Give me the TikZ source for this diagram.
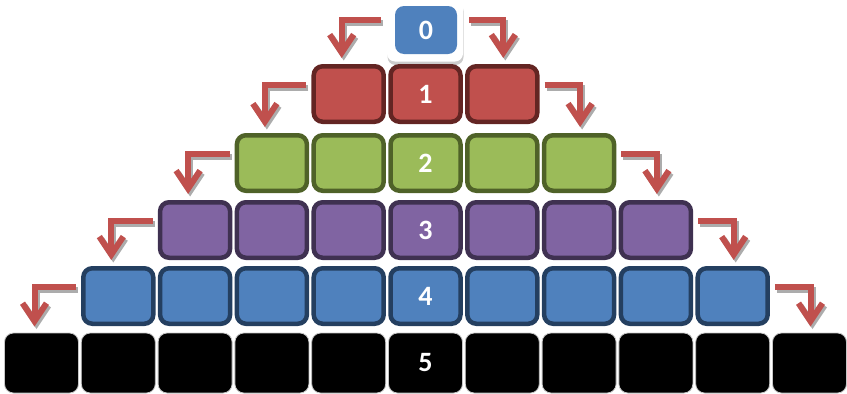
\documentclass[tikz,border=0pt]{standalone}
\usepackage{fontspec}
\setmainfont{Carlito}
\usetikzlibrary{arrows.meta}
\definecolor{redF}{HTML}{C0504D}
\definecolor{redD}{HTML}{632523}
\definecolor{grnF}{HTML}{9BBB59}
\definecolor{grnD}{HTML}{4F6228}
\definecolor{purF}{HTML}{8064A2}
\definecolor{purD}{HTML}{3F3151}
\definecolor{bluF}{HTML}{4F81BD}
\definecolor{bluD}{HTML}{243F60}
\definecolor{arrR}{HTML}{C0504D}
\tikzset{
  cell/.style={rectangle, rounded corners=9pt, line width=4.5pt, minimum width=70pt,
    minimum height=55.5pt, inner sep=0pt, text=white,
    font=\fontsize{28}{28}\selectfont\bfseries},
  blackcell/.style={rectangle, rounded corners=9pt, line width=0.8pt, draw=gray!45,
    fill=black, minimum width=74pt, minimum height=60pt, inner sep=0pt, text=white,
    font=\fontsize{28}{28}\selectfont\bfseries},
  topframe/.style={rectangle, rounded corners=8pt, fill=white, minimum width=76pt,
    minimum height=62pt, inner sep=0pt},
  topshadow/.style={rectangle, rounded corners=8pt, fill=gray!40, minimum width=76pt,
    minimum height=62pt, inner sep=0pt},
  arrbase/.style={line width=6pt, line join=miter,
    -{Straight Barb[length=18pt,width=24pt]}},
  arr/.style={arrbase, draw=arrR},
  arrsh/.style={arrbase, draw=gray!65, transform canvas={xshift=2pt,yshift=-2.5pt}},
}
\begin{document}
\begin{tikzpicture}[x=1pt,y=-1pt]
\useasboundingbox (0,0) rectangle (847,394);
% row 0
\node[topshadow] (sh0) at (425.5,34) {};
\node[topframe] (fr0) at (425,30.5) {};
\node[cell, fill=bluF, draw=none, minimum width=62pt, minimum height=48pt] (b0-0) at (426,30) {\raisebox{-5pt}{0}};
% rows 1-4
\foreach \r/\cy/\fc/\dc in {1/94/redF/redD, 2/163/grnF/grnD, 3/230/purF/purD, 4/296/bluF/bluD}{
  \pgfmathtruncatemacro\last{2*\r}
  \foreach \i in {0,...,\last}{
    \node[cell, fill=\fc, draw=\dc] (b\r-\i) at ({425.5+76.8*(\i-\r)},\cy)
      {\ifnum\i=\r\raisebox{-5pt}{\r}\fi};
  }
}
% row 5
\foreach \i in {0,...,10}{
  \node[blackcell] (b5-\i) at ({425.5+76.8*(\i-5)},363)
    {\ifnum\i=5\raisebox{-5pt}{5}\fi};
}
% arrows row 0
\foreach \s in {arrsh,arr}{
  \draw[\s] ([xshift=-12pt,yshift=10pt]b0-0.west) -| ([xshift=-7pt,yshift=6pt]b1-0.north);
  \draw[\s] ([xshift=10pt,yshift=10pt]b0-0.east) -| ([xshift=1pt,yshift=6pt]b1-2.north);
}
% arrows rows 1-4
\foreach \r in {1,2,3,4}{
  \pgfmathtruncatemacro\rn{\r+1}
  \pgfmathtruncatemacro\last{2*\r}
  \pgfmathtruncatemacro\lastn{2*\rn}
  \foreach \s in {arrsh,arr}{
    \draw[\s] ([xshift=-5pt,yshift=9pt]b\r-0.west) -| ([xshift=-7pt,yshift=6pt]b\rn-0.north);
    \draw[\s] ([xshift=5pt,yshift=9pt]b\r-\last.east) -| ([xshift=1pt,yshift=6pt]b\rn-\lastn.north);
  }
}
\end{tikzpicture}
\end{document}
